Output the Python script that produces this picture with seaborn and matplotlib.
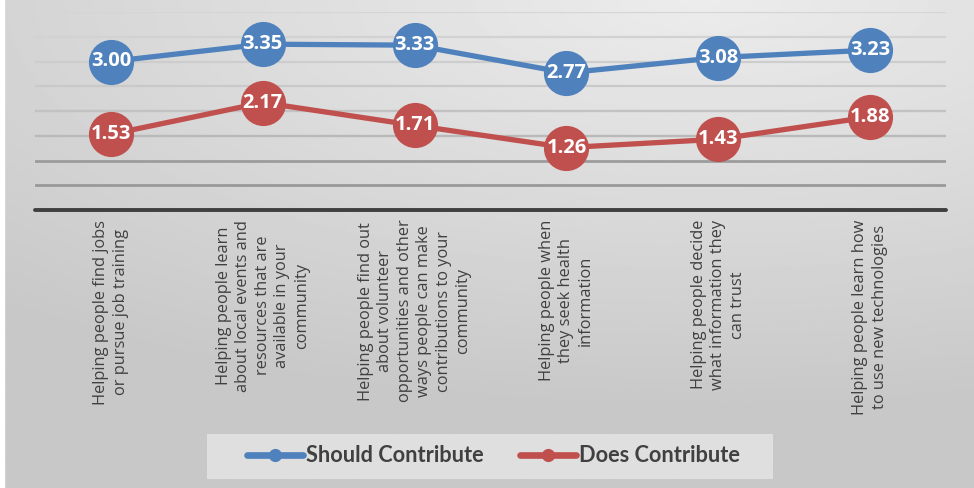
import numpy as np
import pandas as pd
import matplotlib
matplotlib.use("Agg")
import matplotlib.pyplot as plt
from matplotlib.lines import Line2D
from matplotlib.patches import Rectangle
import seaborn as sns

# ---- data -------------------------------------------------------------
categories = [
    "Helping people find jobs\nor pursue job training",
    "Helping people learn\nabout local events and\nresources that are\navailable in your\ncommunity",
    "Helping people find out\nabout volunteer\nopportunities and other\nways people can make\ncontributions to your\ncommunity",
    "Helping people when\nthey seek health\ninformation",
    "Helping people decide\nwhat information they\ncan trust",
    "Helping people learn how\nto use new technologies",
]
should_contribute = [3.00, 3.35, 3.33, 2.77, 3.08, 3.23]
does_contribute = [1.53, 2.17, 1.71, 1.26, 1.43, 1.88]
series_names = ["Should Contribute", "Does Contribute"]
series_colors = ["#4f81bd", "#c0504d"]
grid_levels = [0.5, 1.0, 1.5, 2.0, 2.5, 3.0, 3.5, 4.0]

df = pd.DataFrame({
    "pos": list(range(len(categories))) * 2,
    "value": should_contribute + does_contribute,
    "series": [series_names[0]] * len(categories) + [series_names[1]] * len(categories),
})

sns.set_theme(style="white")
plt.rcParams["font.family"] = ["Open Sans", "DejaVu Sans"]

W, H = 974, 488
fig = plt.figure(figsize=(W / 100, H / 100), dpi=100)

# ---- gradient backdrop ------------------------------------------------
bg = fig.add_axes([0, 0, 1, 1], zorder=-10)
yy, xx = np.mgrid[0:1:200j, 0:1:400j]   # yy = 0 at bottom
d = np.sqrt(((xx - 0.72) * 1.0) ** 2 + ((yy - 1.0) * 1.3) ** 2)
shade = 0.925 - 0.13 * np.clip(d, 0, 1.1)
bg.imshow(shade, cmap="gray", vmin=0, vmax=1, origin="lower",
          extent=[0, 1, 0, 1], aspect="auto")
bg.axvspan(0, 4 / W, color="white")
# legend panel
bg.add_patch(Rectangle((207 / W, (H - 479) / H), 566 / W, 45 / H,
                       facecolor="#dfdfdf", edgecolor="none", zorder=2))
bg.set_xlim(0, 1)
bg.set_ylim(0, 1)
bg.axis("off")

# ---- main plot --------------------------------------------------------
left, right = 35 / W, 946 / W
bottom, top = (H - 210) / H, (H - 12) / H
ax = fig.add_axes([left, bottom, right - left, top - bottom])
ax.patch.set_alpha(0)

grid_colors = ["#999999", "#9c9c9c", "#b9b9b9", "#c2c2c2",
               "#c9c9c9", "#cdcdcd", "#d2d2d2", "#d5d5d5"]
grid_widths = [2.0, 2.0, 1.7, 1.7, 1.6, 1.6, 1.6, 1.6]
for lvl, gc, gw in zip(grid_levels, grid_colors, grid_widths):
    ax.axhline(lvl, color=gc, lw=gw, zorder=1)
ax.axhline(0, color="#3f3f3f", lw=2.8, zorder=2, clip_on=False)

sns.lineplot(data=df, x="pos", y="value", hue="series",
             palette=dict(zip(series_names, series_colors)),
             marker="o", markersize=32.5, markeredgewidth=0,
             linewidth=3.8, ax=ax, legend=False, zorder=3)

for vals in (should_contribute, does_contribute):
    for i, v in enumerate(vals):
        ax.text(i, v, f"{v:.2f}", color="white", fontsize=14.5,
                fontweight="bold", ha="center", va="center", zorder=5)

ax.set_xlim(-0.5, len(categories) - 0.5)
ax.set_ylim(0, 4.0)
ax.set_xticks(range(len(categories)))
ax.set_xticklabels(categories, rotation=90, ha="center", va="top",
                   multialignment="center", fontsize=11.8, color="#404040",
                   linespacing=1.3)
ax.tick_params(axis="x", length=0, pad=7)
ax.set_yticks([])
ax.set_xlabel("")
ax.set_ylabel("")
for s in ax.spines.values():
    s.set_visible(False)

# ---- legend -----------------------------------------------------------
handles = [Line2D([0], [0], color=c, lw=4.8, marker="o", markersize=9.5,
                  markeredgewidth=0) for c in series_colors]
leg = fig.legend(handles, series_names, loc="center",
                 bbox_to_anchor=(493.5 / W, (H - 456) / H),
                 ncol=2, frameon=False,
                 prop={"family": ["Lato", "DejaVu Sans"], "size": 15.7,
                       "weight": "bold"},
                 handlelength=2.55, handletextpad=0.12, columnspacing=1.7,
                 labelcolor="#404040")

fig.savefig("out.png", dpi=100)
